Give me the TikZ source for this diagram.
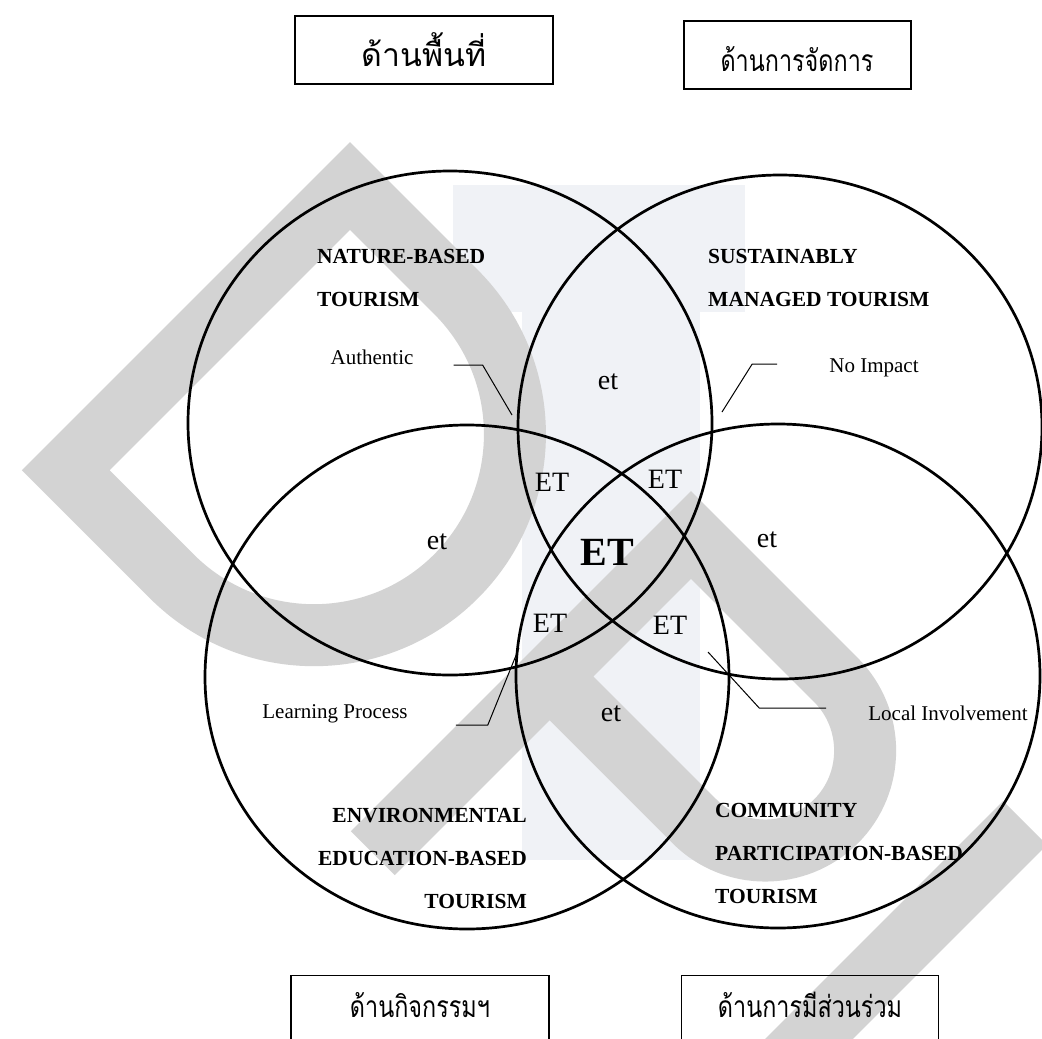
\documentclass[tikz,border=0pt]{standalone}
\usepackage{fontspec}
\setmainfont{Liberation Serif}
\newfontfamily\thaifont[Script=Thai]{Loma}
\newfontfamily\thainarrow[Script=Thai,FakeStretch=0.78]{Loma}
\usetikzlibrary{positioning,shapes.geometric}
\definecolor{wmgrey}{RGB}{211,211,211}
\definecolor{scanbg}{RGB}{240,242,246}

\begin{document}
\begin{tikzpicture}[x=1pt,y=-1pt,
        ring/.style={draw=black,line width=2.7pt,ellipse,minimum width=524pt,minimum height=504pt,inner sep=0pt},
        sidebox/.style={draw=black,line width=1.6pt,anchor=north,inner sep=0pt,font=\thainarrow\fontsize{30}{32}\selectfont},
        areatitle/.style={font=\bfseries\fontsize{21.5}{43}\selectfont,inner sep=0pt},
        pointtag/.style={font=\fontsize{21}{23}\selectfont,inner sep=0pt},
        etlabel/.style={font=\fontsize{28}{30}\selectfont,inner sep=0pt},
        leader/.style={line width=1pt},
        wmband/.style={draw=wmgrey,line width=62pt,line join=miter}
    ]
    \useasboundingbox (0,0) rectangle (1042,1039);
    \clip (0,0) rectangle (1042,1039);

    % Scan shading and watermark
    \fill[scanbg] (453,185) rectangle (745,312);
    \fill[scanbg] (522,312) rectangle (700,860);
    \begin{scope}[shift={(350,186)},rotate=-45]
        \draw[wmband] (150,0) -- (0,0) -- (0,402) -- (150,402)
            .. controls (261,402) and (351,312) .. (351,201)
            .. controls (351,90) and (261,0) .. cycle;
    \end{scope}
    \begin{scope}[shift={(691,535)},rotate=-45]
        \draw[wmband] (0,450) -- (0,0) -- (205,0)
            .. controls (260,0) and (305,45) .. (305,100)
            .. controls (305,155) and (260,200) .. (205,200) -- (0,200);
    \end{scope}
    \draw[wmband] (1025,823) -- (760,1088);

    % The four circles
    \node[ring] (nature) at (450,423) {};
    \node[ring] (managed) at (780,427) {};
    \node[ring] (education) at (467,677) {};
    \node[ring] (community) at (778,676) {};

    % Circle titles
    \node[areatitle,anchor=north west,align=left] (naturetitle) at (317,249) {NATURE-BASED\\TOURISM};
    \node[areatitle,anchor=north west,align=left] (managedtitle) at (708,249) {SUSTAINABLY\\MANAGED TOURISM};
    \node[areatitle,anchor=north east,align=right] (educationtitle) at (527,808) {ENVIRONMENTAL\\EDUCATION-BASED\\TOURISM};
    \node[areatitle,anchor=north west,align=left] (communitytitle) at (715,803) {COMMUNITY\\PARTICIPATION-BASED\\TOURISM};

    % Point tags and their leaders
    \node[pointtag] (authentic) at (372,357) {Authentic};
    \node[pointtag] (noimpact) at (874,368) {No Impact};
    \node[pointtag] (learning) at (335,714) {Learning Process};
    \node[pointtag] (localinv) at (948,713) {Local Involvement};
    \coordinate (authtip) at (512,415);
    \coordinate (impacttip) at (722,412);
    \coordinate (learntip) at (519,648);
    \coordinate (localtip) at (708,652);
    \draw[leader] (authentic.east) ++(40,8) -- ++(29,0) -- (authtip);
    \draw[leader] (noimpact.west) ++(-52,-4) -- ++(-25,0) -- (impacttip);
    \draw[leader] (learning.east) ++(48,11) -- ++(32,0) -- (learntip);
    \draw[leader] (localinv.west) ++(-42,-5) -- ++(-67,0) -- (localtip);

    % Overlap labels
    \node[etlabel] (etnm) at (608,382) {et};
    \node[etlabel] (etne) at (437,542) {et};
    \node[etlabel] (etmc) at (767,540) {et};
    \node[etlabel] (etec) at (611,714) {et};
    \node[etlabel] (etnme) at (552,482) {ET};
    \node[etlabel] (etnmc) at (665,479) {ET};
    \node[etlabel] (etnec) at (550,623) {ET};
    \node[etlabel] (etmec) at (670,625) {ET};
    \node[etlabel,font=\bfseries\fontsize{40}{42}\selectfont] (etcore) at (607,552) {ET};

    % Aspect boxes
    \node[sidebox,line width=2pt,minimum width=258pt,text height=50pt,text depth=18pt,font=\thaifont\fontsize{32}{34}\selectfont] (areabox) at (424,15) {ด้านพื้นที่};
    \node[sidebox,line width=2pt,minimum width=227pt,text height=50pt,text depth=18pt] (managebox) at (797,20) {ด้านการจัดการ};
    \node[sidebox,line width=1.3pt,minimum width=258pt,text height=42pt,text depth=70pt] (activitybox) at (420,975) {ด้านกิจกรรมฯ};
    \node[sidebox,line width=1.3pt,minimum width=257pt,text height=42pt,text depth=70pt] (sharebox) at (810,975) {ด้านการมีส่วนร่วม};
\end{tikzpicture}
\end{document}
